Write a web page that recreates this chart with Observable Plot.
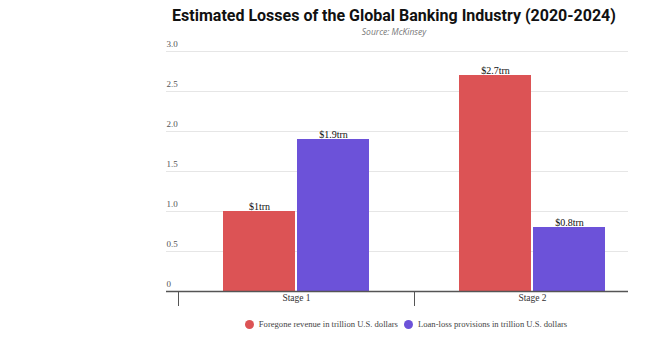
<!DOCTYPE html>
<html><head><meta charset="utf-8">
<script src="https://cdn.jsdelivr.net/npm/d3@7"></script>
<script src="https://cdn.jsdelivr.net/npm/@observablehq/plot@0.6"></script>
<style>
body{margin:0;background:#fff;width:650px;height:346px;position:relative;overflow:hidden}
#title{position:absolute;left:138px;width:512px;top:6px;text-align:center;font:bold 16px Roboto,sans-serif;color:#111;white-space:nowrap}
#sub{position:absolute;left:138px;width:512px;top:26px;text-align:center;font:italic 8.5px "Open Sans",sans-serif;color:#777}
#chart{position:absolute;left:0;top:38px}
#legend{position:absolute;left:138px;width:536px;top:319px;display:flex;justify-content:center;font:8.6px "Liberation Serif",serif;color:#444}
#legend span.item{display:flex;align-items:center;margin:0 3px}
#legend span.dot{display:inline-block;width:9px;height:9px;border-radius:50%;margin-right:5px}
</style></head><body>
<div id="title">Estimated Losses of the Global Banking Industry (2020-2024)</div>
<div id="sub">Source: McKinsey</div>
<div id="chart"></div>
<div id="legend"></div>
<script>
const stages = ["Stage 1", "Stage 2"];
const series = ["Foregone revenue in trillion U.S. dollars", "Loan-loss provisions in trillion U.S. dollars"];
const foregone = [1.0, 2.7];
const loanLoss = [1.9, 0.8];
const foregoneLabels = ["$1trn", "$2.7trn"];
const loanLossLabels = ["$1.9trn", "$0.8trn"];
const yTicks = [0, 0.5, 1, 1.5, 2, 2.5, 3];
const colors = ["#DC5355", "#6C52D9"];

const data = [];
stages.forEach((s, i) => {
  data.push({stage: s, series: series[0], value: foregone[i], label: foregoneLabels[i]});
  data.push({stage: s, series: series[1], value: loanLoss[i], label: loanLossLabels[i]});
});

const fxRange = [178, 650];
const step = (fxRange[1] - fxRange[0]) / stages.length;
const gridVals = yTicks.filter(d => d > 0);
const grid1 = gridVals.map(v => ({stage: stages[0], v}));
const grid2 = gridVals.map(v => ({stage: stages[1], v}));
const base1 = [{stage: stages[0], v: 0}];
const base2 = [{stage: stages[1], v: 0}];

const chart = Plot.plot({
  width: 650, height: 275,
  marginTop: 13, marginBottom: 22, marginLeft: 166, marginRight: 22,
  style: {fontFamily: '"Liberation Serif", serif', background: "transparent", overflow: "visible"},
  fx: {domain: stages, range: fxRange, padding: 0, label: null},
  x: {domain: series, paddingInner: 0.027, paddingOuter: 0.608, axis: null},
  y: {domain: [0, 3], ticks: yTicks, label: null},
  color: {domain: series, range: colors},
  marks: [
    Plot.ruleY(grid1, {fx: "stage", y: "v", stroke: "#e6e6e6", insetLeft: -12}),
    Plot.ruleY(grid2, {fx: "stage", y: "v", stroke: "#e6e6e6", insetRight: 22}),
    Plot.barY(data, {fx: "stage", x: "series", y: "value", fill: "series"}),
    Plot.text(data, {fx: "stage", x: "series", y: "value", text: "label", lineAnchor: "bottom", dy: -2, fill: "#111", fontSize: 10}),
    Plot.ruleY(base1, {fx: "stage", y: "v", stroke: "#555", strokeWidth: 1.5, insetLeft: -12}),
    Plot.ruleY(base2, {fx: "stage", y: "v", stroke: "#555", strokeWidth: 1.5, insetRight: 22}),
    Plot.axisY({ticks: yTicks, tickSize: 0, tickPadding: 0, textAnchor: "start", dx: -12, dy: -7, label: null,
      tickFormat: d => d === 0 ? "0" : d.toFixed(1), fill: "#555", fontSize: 9}),
    Plot.axisFx({anchor: "bottom", tickSize: 15, text: null, dx: -step / 2, stroke: "#555", label: null}),
    Plot.axisFx({anchor: "bottom", tickSize: 0, tickPadding: 3, fontSize: 9.5, fill: "#333", label: null})
  ]
});
document.getElementById("chart").appendChild(chart);

const legend = document.getElementById("legend");
series.forEach((s, i) => {
  const item = document.createElement("span");
  item.className = "item";
  const dot = document.createElement("span");
  dot.className = "dot";
  dot.style.background = colors[i];
  item.appendChild(dot);
  item.appendChild(document.createTextNode(s));
  legend.appendChild(item);
});
</script>
</body></html>
